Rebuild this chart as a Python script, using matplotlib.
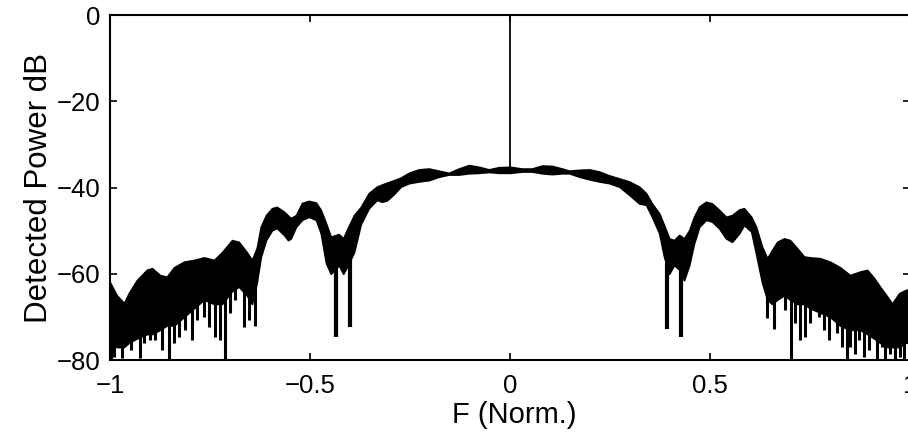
import numpy as np
import matplotlib
matplotlib.use('Agg')
import matplotlib.pyplot as plt

plt.rcParams['font.family'] = ['Liberation Sans', 'DejaVu Sans']

# envelope of the detected power band
freq = [-1.000, -0.983, -0.965, -0.953, -0.933, -0.908, -0.895, -0.875, -0.858, -0.840,
        -0.815, -0.790, -0.765, -0.740, -0.720, -0.695, -0.678, -0.658, -0.645, -0.633,
        -0.623, -0.610, -0.595, -0.583, -0.565, -0.555, -0.548, -0.535, -0.520, -0.503,
        -0.485, -0.473, -0.460, -0.448, -0.428, -0.417, -0.408, -0.390, -0.373, -0.353,
        -0.333, -0.320, -0.308, -0.290, -0.273, -0.253, -0.228, -0.203, -0.178, -0.153,
        -0.128, -0.103, -0.078, -0.053, -0.028, 0.000, 0.030, 0.055, 0.080, 0.105,
        0.130, 0.148, 0.173, 0.198, 0.223, 0.248, 0.273, 0.298, 0.323, 0.340,
        0.355, 0.373, 0.385, 0.398, 0.410, 0.423, 0.435, 0.448, 0.460, 0.473,
        0.490, 0.505, 0.523, 0.540, 0.555, 0.573, 0.585, 0.603, 0.615, 0.630,
        0.643, 0.655, 0.668, 0.685, 0.700, 0.718, 0.735, 0.750, 0.775, 0.800,
        0.825, 0.850, 0.875, 0.893, 0.910, 0.925, 0.943, 0.955, 0.973, 0.988, 1.000]
upper_db = [-62.0, -65.0, -66.8, -64.5, -61.5, -59.1, -58.7, -60.3, -60.7, -58.5,
            -57.2, -56.8, -56.2, -56.8, -55.0, -52.2, -52.6, -55.0, -56.8, -54.0,
            -49.1, -46.4, -44.8, -44.5, -45.6, -46.5, -47.1, -46.4, -43.6, -43.1,
            -43.5, -45.2, -48.3, -51.4, -50.8, -51.8, -49.9, -46.4, -44.5, -41.3,
            -39.8, -39.3, -38.9, -38.3, -37.7, -36.6, -35.8, -35.6, -36.1, -36.6,
            -35.6, -34.8, -35.2, -35.8, -35.3, -35.2, -35.6, -35.6, -34.9, -35.0,
            -35.6, -36.1, -35.9, -35.8, -36.3, -37.2, -37.9, -38.6, -39.8, -41.3,
            -43.7, -46.0, -48.7, -51.8, -52.2, -51.0, -51.8, -49.9, -46.8, -44.4,
            -43.3, -43.7, -45.2, -46.8, -46.4, -45.1, -44.8, -46.8, -49.1, -53.7,
            -56.4, -54.5, -52.6, -51.8, -52.2, -54.1, -56.0, -56.2, -56.4, -57.2,
            -58.5, -60.3, -59.5, -59.1, -61.0, -63.0, -65.3, -66.9, -64.5, -63.8, -63.5]
lower_db = [-76.0, -77.0, -77.0, -76.0, -75.0, -74.0, -74.0, -73.0, -72.0, -72.0,
            -70.0, -68.0, -66.0, -67.0, -67.0, -64.0, -63.0, -65.0, -67.0, -62.0,
            -56.1, -52.2, -49.9, -49.4, -51.0, -52.2, -51.8, -49.1, -47.5, -46.8,
            -47.5, -50.6, -57.5, -60.0, -58.0, -60.0, -58.5, -55.0, -48.5, -44.8,
            -42.9, -43.3, -43.0, -41.5, -39.8, -39.0, -38.6, -38.3, -37.5, -37.0,
            -37.0, -36.7, -36.6, -36.4, -36.6, -36.6, -36.3, -36.3, -36.7, -36.9,
            -36.7, -36.7, -37.5, -38.1, -38.6, -39.0, -39.8, -41.7, -43.7, -44.0,
            -46.8, -50.6, -56.0, -60.0, -58.0, -59.0, -61.5, -58.0, -53.0, -49.1,
            -47.5, -47.9, -49.5, -51.8, -52.6, -50.6, -48.7, -50.2, -55.3, -62.0,
            -66.0, -67.0, -66.0, -65.0, -66.0, -67.0, -67.0, -68.0, -69.0, -70.0,
            -72.0, -73.0, -73.0, -74.0, -75.0, -76.0, -77.0, -77.0, -77.0, -76.0, -76.0]

# deep narrow dips hanging below the band
spike_freq = [-0.997, -0.991, -0.970, -0.948, -0.924, -0.916, -0.901, -0.887, -0.870, -0.853,
              -0.841, -0.828, -0.812, -0.795, -0.783, -0.766, -0.753, -0.737, -0.724, -0.712,
              -0.699, -0.687, -0.666, -0.653, -0.638,
              0.643, 0.659, 0.688, 0.703, 0.713, 0.726, 0.738, 0.751, 0.772, 0.784,
              0.797, 0.818, 0.830, 0.843, 0.851, 0.863, 0.872, 0.884, 0.897, 0.909,
              0.918, 0.930, 0.938, 0.951, 0.963, 0.976, 0.984]
spike_db = [-80.0, -79.2, -79.6, -77.7, -79.6, -76.1, -75.4, -75.4, -77.7, -80.0,
            -76.1, -74.6, -73.0, -75.4, -70.7, -70.0, -72.3, -74.6, -75.4, -80.0,
            -69.2, -66.1, -72.3, -70.7, -72.0,
            -70.3, -72.7, -68.4, -80.0, -71.5, -75.4, -74.6, -71.5, -70.0, -73.0,
            -75.4, -73.8, -76.9, -80.0, -76.9, -78.5, -75.4, -79.2, -77.7, -73.0,
            -80.0, -76.9, -80.0, -78.5, -80.0, -79.2, -80.0]

# the two pairs of nulls either side of the passband
null_freq = [-0.436, -0.400, 0.393, 0.427]
null_db = [-74.6, -72.3, -72.7, -74.6]

# carrier line at F = 0
carrier_freq = 0.0
carrier_db = 0.0

fig = plt.figure(figsize=(9.08, 4.34), dpi=100)
ax = fig.add_axes([0.1211, 0.1705, 0.8811, 0.7949])

ax.fill_between(freq, lower_db, upper_db, color='black', linewidth=1.2, edgecolor='black')
spike_top = np.interp(spike_freq, freq, lower_db) + 1.0
ax.vlines(spike_freq, spike_db, spike_top, color='black', linewidth=2.2)
null_top = np.interp(null_freq, freq, lower_db) + 1.0
ax.vlines(null_freq, null_db, null_top, color='black', linewidth=3.0)
ax.vlines([carrier_freq], np.interp([carrier_freq], freq, upper_db), [carrier_db],
          color='black', linewidth=1.3)

ax.set_xlim(-1, 1)
ax.set_ylim(-80, 0)
ax.set_xticks([-1, -0.5, 0, 0.5, 1])
ax.set_xticklabels(['\u22121', '\u22120.5', '0', '0.5', '1'])
ax.set_yticks([-80, -60, -40, -20, 0])
ax.set_yticklabels(['\u221280', '\u221260', '\u221240', '\u221220', '0'])
ax.tick_params(direction='in', length=5, width=1.2, top=True, right=True,
               labelsize=18.5, pad=7)
ax.tick_params(axis='x', pad=10)
for s in ax.spines.values():
    s.set_linewidth(1.5)

ax.set_xlabel('F (Norm.)', fontsize=21)
ax.xaxis.set_label_coords(0.505, -0.118)
ax.set_ylabel('Detected Power dB', fontsize=22.5, labelpad=2)

fig.savefig('out.png', dpi=100)
